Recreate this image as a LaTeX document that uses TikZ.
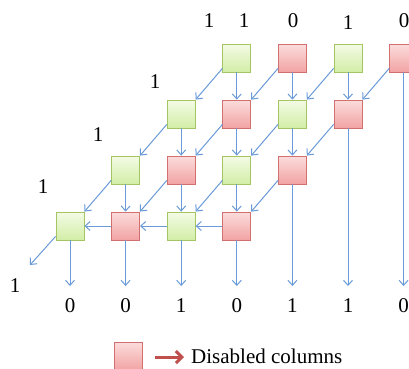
\documentclass[tikz,border=0pt]{standalone}
\usepackage{fontspec}
\setmainfont{Liberation Serif}
\usetikzlibrary{arrows.meta,calc}
\definecolor{gborder}{HTML}{A5C563}
\definecolor{gtop}{HTML}{F4FBE6}
\definecolor{gbot}{HTML}{D2EDA6}
\definecolor{rborder}{HTML}{D07070}
\definecolor{rtop}{HTML}{FCDCDC}
\definecolor{rbot}{HTML}{F2A3A3}
\definecolor{flow}{HTML}{6A9AD8}
\definecolor{legarrow}{HTML}{C0504D}
\tikzset{
  cell/.style={minimum width=28pt,minimum height=28pt,inner sep=0pt,line width=0.8pt},
  gcell/.style={cell,draw=gborder,top color=gtop,bottom color=gbot},
  rcell/.style={cell,draw=rborder,top color=rtop,bottom color=rbot},
  flowarrow/.style={draw=flow,line width=1pt,-{Straight Barb[length=5pt,width=9pt,line width=1pt]}},
  lbl/.style={inner sep=0pt,font=\fontsize{21}{25}\selectfont},
}
\begin{document}
\begin{tikzpicture}[x=1pt,y=-1pt]
\useasboundingbox (0,0) rectangle (409,368);
\clip (0,0) rectangle (409,368);
% row 1
\node[gcell] (n14) at (236.8,58) {};
\node[rcell] (n15) at (292.4,58) {};
\node[gcell] (n16) at (348,58) {};
\node[rcell] (n17) at (403.6,58) {};
% row 2
\node[gcell] (n23) at (181.2,114) {};
\node[rcell] (n24) at (236.8,114) {};
\node[gcell] (n25) at (292.4,114) {};
\node[rcell] (n26) at (348,114) {};
% row 3
\node[gcell] (n32) at (125.6,170) {};
\node[rcell] (n33) at (181.2,170) {};
\node[gcell] (n34) at (236.8,170) {};
\node[rcell] (n35) at (292.4,170) {};
% row 4
\node[gcell] (n41) at (70,226) {};
\node[rcell] (n42) at (125.6,226) {};
\node[gcell] (n43) at (181.2,226) {};
\node[rcell] (n44) at (236.8,226) {};
% bottom ends
\coordinate (b1) at (70,286);
\coordinate (b2) at (125.6,286);
\coordinate (b3) at (181.2,286);
\coordinate (b4) at (236.8,286);
\coordinate (b5) at (292.4,286);
\coordinate (b6) at (348,286);
\coordinate (b7) at (403.6,286);
\coordinate (dout) at (30,265);
% vertical
\foreach \a/\b in {n14/n24,n15/n25,n16/n26,n23/n33,n24/n34,n25/n35,n32/n42,n33/n43,n34/n44}
  \draw[flowarrow] (\a.south) -- (\b.north);
\draw[flowarrow] (n17.south) -- (b7);
\draw[flowarrow] (n26.south) -- (b6);
\draw[flowarrow] (n35.south) -- (b5);
\draw[flowarrow] (n41.south) -- (b1);
\draw[flowarrow] (n42.south) -- (b2);
\draw[flowarrow] (n43.south) -- (b3);
\draw[flowarrow] (n44.south) -- (b4);
% diagonal
\foreach \a/\b in {n14/n23,n15/n24,n16/n25,n17/n26,n23/n32,n24/n33,n25/n34,n26/n35,n32/n41,n33/n42,n34/n43,n35/n44}
  \draw[flowarrow] ($(\a.south west)+(0,-4)$) -- (\b.north east);
\draw[flowarrow] ($(n41.south west)+(0,-4)$) -- (dout);
% horizontal
\draw[flowarrow] (n42.west) -- (n41.east);
\draw[flowarrow] (n43.west) -- (n42.east);
\draw[flowarrow] (n44.west) -- (n43.east);
% top labels
\node[lbl] (t0) at (209,21) {1};
\node[lbl] (t4) at (244,21) {1};
\node[lbl] (t5) at (293,21) {0};
\node[lbl] (t6) at (348,23) {1};
\node[lbl] (t7) at (404,21) {0};
% left labels
\node[lbl] (l2) at (155,82) {1};
\node[lbl] (l3) at (98,135) {1};
\node[lbl] (l4) at (43,187) {1};
\node[lbl] (lo) at (15,286) {1};
% bottom labels
\node[lbl] (o1) at (70,306) {0};
\node[lbl] (o2) at (125.6,306) {0};
\node[lbl] (o3) at (181.2,306) {1};
\node[lbl] (o4) at (236.8,306) {0};
\node[lbl] (o5) at (292.4,306) {1};
\node[lbl] (o6) at (348,306) {1};
\node[lbl] (o7) at (403.6,306) {0};
% legend
\node[rcell] (leg) at (128,356) {};
\coordinate (la) at (155,357);
\coordinate (lb) at (184,357);
\draw[legarrow,line width=3pt,-{Straight Barb[length=6pt,width=12pt,line width=3pt]}] (la) -- (lb);
\node[lbl,anchor=west] (legtxt) at (191,356) {Disabled columns};
\end{tikzpicture}
\end{document}
